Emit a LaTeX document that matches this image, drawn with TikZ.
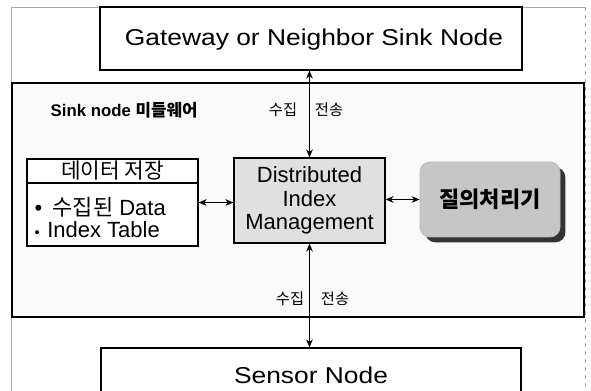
\documentclass[tikz,border=0pt]{standalone}
\usepackage{fontspec}
\setmainfont{Liberation Sans}
\newfontfamily\kr{Noto Sans CJK KR}
\usetikzlibrary{arrows.meta,shadows}
\begin{document}
\begin{tikzpicture}[x=0.75pt,y=-0.75pt,
  box/.style={draw=black, line width=0.9pt, inner sep=0pt, rectangle},
  frame/.style={draw=gray!70, line width=0.5pt},
  link/.style={{Stealth[length=6pt,width=5pt]}-{Stealth[length=6pt,width=5pt]}, line width=1pt},
  big/.style={font=\fontsize{17.2}{20}\selectfont},
  mid/.style={font=\fontsize{16.5}{17.5}\selectfont},
  small/.style={font=\kr\fontsize{11.5}{13}\selectfont},
]
\useasboundingbox (0,0) rectangle (591,391);
\clip (0,0) rectangle (591,391);

% outer frame of the figure
\draw[frame] (11,400) -- (11,7) -- (585,7);
\draw[frame, dashed] (585,7) -- (585,400);

% sink node middleware area
\node[box, fill=gray!4, minimum width=429pt, minimum height=175.5pt] (sink) at (298,200) {};
\node[anchor=west, font=\bfseries\fontsize{12.6}{14}\selectfont] (sinklbl) at (46,110)
  {Sink node {\kr\bfseries 미들웨어}};

% gateway and sensor nodes
\node[box, fill=white, minimum width=316.5pt, minimum height=47.25pt] (gw) at (311,38.5) {};
\node[big] (gwtext) at (314,40) {\scalebox{1.15}[1]{Gateway or Neighbor Sink Node}};

\node[box, fill=white, minimum width=315pt, minimum height=54pt] (sensor) at (311,384) {};
\node[big] (sensortext) at (311,375) {\scalebox{1.15}[1]{Sensor Node}};

% distributed index management
\node[box, fill=gray!24, minimum width=113.25pt, minimum height=63.75pt, align=center,
      mid] (dim) at (309.5,200.5) {Distributed\\Index\\Management};

% data storage box
\node[box, fill=white, minimum width=128.25pt, minimum height=65.25pt] (data) at (112.5,202.5) {};
\node[box, minimum width=128.25pt, minimum height=18pt] (hdr) at (112.5,171) {};
\node[font=\kr\fontsize{16}{18}\selectfont] (hdrtext) at (112.5,170.5) {데이터 저장};
\node[anchor=west, mid] (item1) at (30,207) {•\hspace{3pt} {\kr 수집된} Data};
\node[anchor=west, mid] (item2) at (30,230) {{\fontsize{11}{13}\selectfont•}\hspace{1pt} Index Table};

% query processor
\node[rectangle, rounded corners=7.5pt, fill=gray!45, draw=gray!55, line width=0.6pt,
      minimum width=105pt, minimum height=56.25pt,
      drop shadow={shadow xshift=4pt, shadow yshift=-4pt, fill=black!80, opacity=1},
      font=\kr\bfseries\fontsize{16.5}{18}\selectfont] (qp) at (490,199.5) {질의처리기};

% connectors
\draw[link] (data.east) -- (dim.west |- data.east);
\draw[link] (dim.east |- qp.west) -- (qp.west);
\draw[link] (dim.north) -- (dim.north |- gw.south);
\draw[link] (dim.south) -- (dim.south |- sensor.north);

% transfer labels
\node[small] (up1) at (283,110) {수집};
\node[small] (up2) at (329,110) {전송};
\node[small] (dn1) at (290,299) {수집};
\node[small] (dn2) at (335,299) {전송};
\end{tikzpicture}
\end{document}
